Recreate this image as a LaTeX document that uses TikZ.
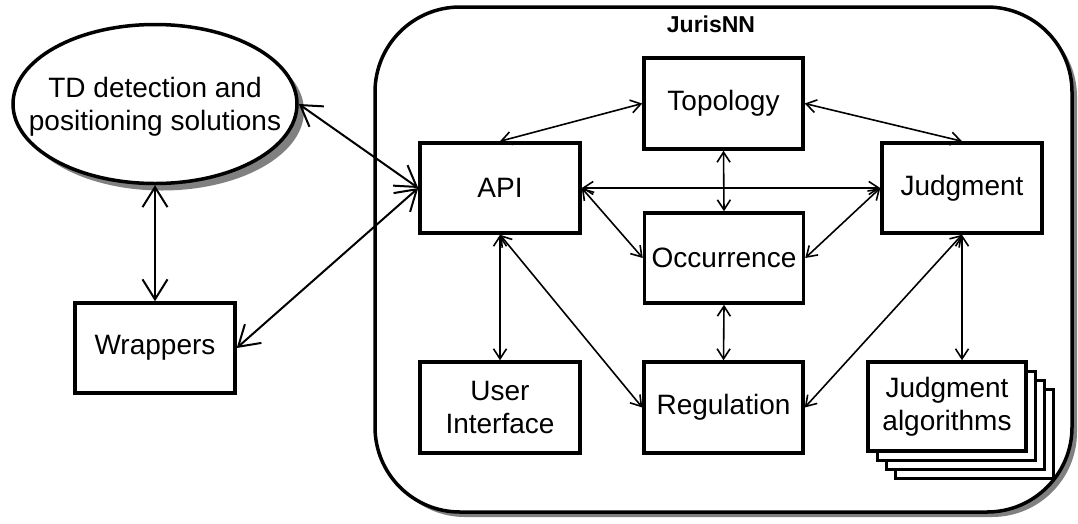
\documentclass[tikz,border=0pt]{standalone}
\usepackage{fontspec}
\setmainfont{Liberation Sans}
\usetikzlibrary{arrows.meta,shapes.geometric,shadows}

\tikzset{
  box/.style={draw, line width=3.5pt, fill=white, minimum width=160pt, minimum height=90pt, inner sep=2pt, align=center},
  stackbox/.style={draw, line width=3pt, fill=white, minimum width=158pt, minimum height=89pt},
  conn/.style={{Straight Barb[length=10pt,width=13pt]}-{Straight Barb[length=10pt,width=13pt]}, line width=1.6pt},
  bigconn/.style={{Straight Barb[length=20pt,width=25pt]}-{Straight Barb[length=20pt,width=25pt]}, line width=2pt},
  grayshadow/.style={drop shadow={shadow xshift=#1, shadow yshift=-#1, fill=gray, opacity=1}},
}

\begin{document}
\begin{tikzpicture}[x=1pt, y=-1pt, font=\fontsize{28}{33}\selectfont]
    \useasboundingbox (0,0) rectangle (1078,523);
    % frame
    \node[draw, line width=3.5pt, rounded corners=85pt, fill=white, grayshadow=5pt, minimum width=697pt, minimum height=505pt] (jurisnn) at (723.5,259.5) {};
    \node[font=\fontsize{23}{27}\selectfont\bfseries] (title) at (711,24) {JurisNN};
    % outside
    \node[ellipse, draw, line width=3.5pt, fill=white, grayshadow=7pt, minimum width=284pt, minimum height=159pt, inner sep=0pt] (td) at (155,104) {};
    \node[align=center, yshift=-3pt] (tdtext) at (td.center) {TD detection and\\positioning solutions};
    \node[box] (wrap) at (155,348) {Wrappers};
    % inside
    \node[box] (api) at (500,188) {API};
    \node[box, minimum width=159pt, minimum height=91pt] (topo) at (723.5,103.5) {Topology};
    \node[box] (judg) at (962,188) {Judgment};
    \node[box, minimum width=159pt] (occ) at (724,258) {Occurrence};
    \node[box, minimum height=91pt] (ui) at (500,407.5) {User\\Interface};
    \node[box, minimum width=159pt, minimum height=91pt] (reg) at (723.5,407.5) {Regulation};
    \foreach \k in {3,2,1} {
        \node[stackbox] (algo\k) at ({947+9*\k},{406.5+9*\k}) {};
    }
    \node[box, minimum width=158pt, minimum height=89pt] (algo) at (947,406.5) {Judgment\\algorithms};
    % connectors
    \draw[bigconn] (td.east) -- (api.west);
    \draw[bigconn] (td.south) -- (wrap.north);
    \draw[bigconn] (wrap.east) -- (api.west);
    \draw[conn] (api.north) -- (topo.west);
    \draw[conn] (topo.east) -- (judg.north);
    \draw[conn] (topo.south) -- (occ.north);
    \draw[conn] (api.east) -- (judg.west);
    \draw[conn] (api.east) -- (occ.west);
    \draw[conn] (judg.west) -- (occ.east);
    \draw[conn] (api.south) -- (ui.north);
    \draw[conn] (api.south) -- (reg.west);
    \draw[conn] (occ.south) -- (reg.north);
    \draw[conn] (judg.south) -- (reg.east);
    \draw[conn] (judg.south) -- (judg.south |- algo.north);
\end{tikzpicture}
\end{document}
